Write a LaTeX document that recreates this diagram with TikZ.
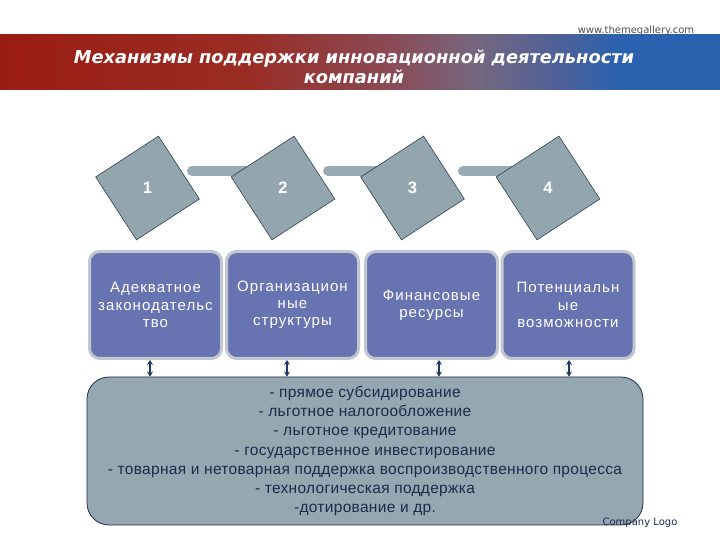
\documentclass[tikz,border=0pt]{standalone}
\usepackage{fontspec}
\setmainfont{Liberation Sans}
\newfontfamily\titlefont{DejaVu Sans}
\usetikzlibrary{shapes.geometric,arrows.meta,positioning,backgrounds}

\definecolor{bandred}{HTML}{9B1C14}
\definecolor{bandredb}{HTML}{9A2C24}
\definecolor{bandmid}{HTML}{8A4A55}
\definecolor{bandmauve}{HTML}{76677F}
\definecolor{bandblueb}{HTML}{4D609A}
\definecolor{bandblue}{HTML}{2A62B0}
\definecolor{diamfill}{HTML}{93A6AF}
\definecolor{diamline}{HTML}{2E4050}
\definecolor{barfill}{HTML}{98AAB3}
\definecolor{boxfill}{HTML}{6874B2}
\definecolor{boxline}{HTML}{C2C6CF}
\definecolor{bigfill}{HTML}{95A8B1}
\definecolor{bigline}{HTML}{1C2E4A}
\definecolor{txtnavy}{HTML}{1A2B4C}
\definecolor{arrnavy}{HTML}{1F3A60}

\pgfdeclarehorizontalshading{bandshade}{100bp}{color(0bp)=(bandred); color(25bp)=(bandred);
  color(42bp)=(bandredb); color(52bp)=(bandmid); color(58bp)=(bandmauve);
  color(64bp)=(bandblueb); color(68bp)=(bandblue); color(100bp)=(bandblue)}

\begin{document}
\begin{tikzpicture}[x=1pt,y=1pt,
  diam/.style={regular polygon, regular polygon sides=4, minimum size=106pt,
    inner sep=0pt, shape border rotate=33, draw=diamline, line width=0.6pt,
    fill=diamfill, text=white, font=\bfseries\fontsize{16.5}{18}\selectfont},
  bar/.style={draw=barfill, line width=10pt, line cap=round},
  box/.style={draw=boxline, line width=3pt, fill=boxfill, rounded corners=10pt,
    minimum width=132pt, minimum height=107pt, inner sep=1pt, text=white,
    align=center, font=\fontsize{15}{17.2}\selectfont\addfontfeatures{LetterSpace=7}},
  bigbox/.style={draw=bigline, line width=0.8pt, fill=bigfill, rounded corners=22pt,
    minimum width=556pt, minimum height=148pt, text=txtnavy, align=center,
    font=\fontsize{15.5}{19.2}\selectfont\addfontfeatures{LetterSpace=2}},
  link/.style={{Stealth[length=5pt,width=6pt]}-{Stealth[length=5pt,width=6pt]},
    line width=1.4pt, draw=arrnavy}]

  \useasboundingbox (0,0) rectangle (720,540);

  % header
  \shade[shading=bandshade] (0,450) rectangle (720,505);
  \node[font=\titlefont\fontsize{10}{11}\selectfont, text=black!70] (web) at (636,509) {www.themegallery.com};
  \node[text=white, align=center, font=\titlefont\bfseries\itshape\fontsize{17.8}{20}\selectfont] (title)
    at (354,473) {Механизмы поддержки инновационной деятельности\\компаний};

  % steps
  \node[diam] (d1) at (147.5,352) {1};
  \node[diam] (d2) at (283,352) {2};
  \node[diam] (d3) at (412.5,352) {3};
  \node[diam] (d4) at (548,352) {4};

  \begin{scope}[on background layer]
    \draw[bar] ([xshift=44.5,yshift=17]d1.center) -- ([xshift=-10,yshift=17]d2.center);
    \draw[bar] ([xshift=45,yshift=17]d2.center) -- ([xshift=-10,yshift=17]d3.center);
    \draw[bar] ([xshift=50.5,yshift=17]d3.center) -- ([xshift=-10,yshift=17]d4.center);
  \end{scope}

  \node[box] (b1) at (155.5,235) {Адекватное\\законодательс\\тво};
  \node[box] (b2) at (292.5,235) {Организацион\\ные\\структуры};
  \node[box] (b3) at (431.5,235) {Финансовые\\ресурсы};
  \node[box] (b4) at (568,235) {Потенциальн\\ые\\возможности};

  \node[bigbox] (m) at (365,89) {- прямое субсидирование\\
    - льготное налогообложение\\
    - льготное кредитование\\
    - государственное инвестирование\\
    - товарная и нетоварная поддержка воспроизводственного процесса\\
    - технологическая поддержка\\
    -дотирование и др.};

  \draw[link] ([xshift=-5.5]b1.south) -- ([xshift=-5.5]b1.south |- m.north);
  \draw[link] ([xshift=-5.5]b2.south) -- ([xshift=-5.5]b2.south |- m.north);
  \draw[link] ([xshift=7.5]b3.south) -- ([xshift=7.5]b3.south |- m.north);
  \draw[link] ([xshift=1]b4.south) -- ([xshift=1]b4.south |- m.north);

  \node[font=\titlefont\fontsize{10}{12}\selectfont, text=txtnavy] (logo) at (640,17) {Company Logo};

\end{tikzpicture}
\end{document}
